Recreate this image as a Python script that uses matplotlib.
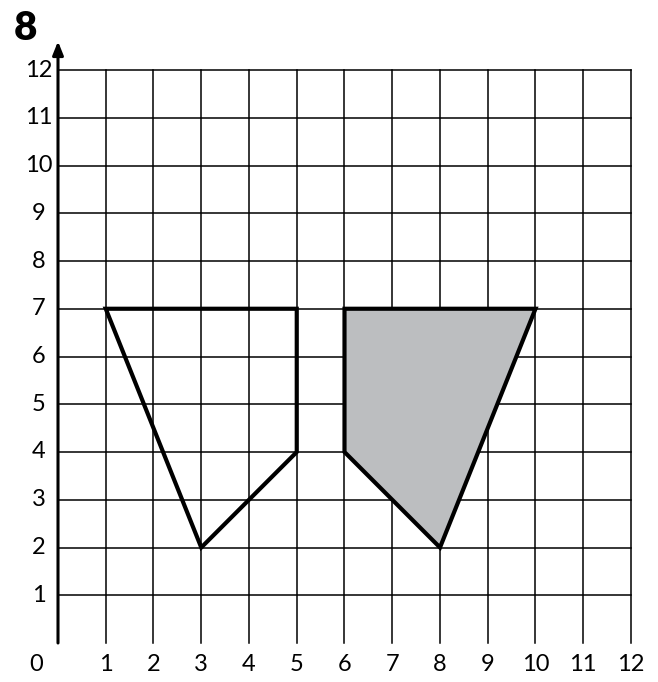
import matplotlib
matplotlib.use("Agg")
import matplotlib.pyplot as plt
from matplotlib.patches import Polygon

# grid size and tick labels
grid_max = 12
ticks = list(range(1, 13))

# shapes on the grid
shape_a_x = [1, 5, 5, 3]
shape_a_y = [7, 7, 4, 2]
shape_b_x = [6, 10, 8, 6]
shape_b_y = [7, 7, 2, 4]

fig = plt.figure(figsize=(6.58, 6.82), dpi=100)
ax = fig.add_axes([0, 0, 1, 1])
unit = 47.75
ax.set_xlim(-58 / unit, (658 - 58) / unit)
ax.set_ylim(-(682 - 643) / unit, 643 / unit)
ax.axis("off")

# grid lines
for v in range(1, grid_max + 1):
    ax.plot([v, v], [0, grid_max], color="black", lw=1.1, zorder=1)
    ax.plot([0, grid_max], [v, v], color="black", lw=1.1, zorder=1)

# axes with arrows
ax.annotate("", xy=(12.58, 0), xytext=(0, 0),
            arrowprops=dict(arrowstyle="-|>,head_length=0.5,head_width=0.2",
                            lw=2.2, color="black",
                            mutation_scale=16, shrinkA=0, shrinkB=0))
ax.annotate("", xy=(0, 12.6), xytext=(0, 0),
            arrowprops=dict(arrowstyle="-|>,head_length=0.5,head_width=0.2",
                            lw=2.2, color="black",
                            mutation_scale=16, shrinkA=0, shrinkB=0))

font = dict(family=["Lato", "DejaVu Sans"], fontsize=17, color="black")
for t in ticks:
    ax.text(t, -0.46, str(t), ha="center", va="center", **font)
    ax.text(-0.4, t, str(t), ha="center", va="center", **font)
ax.text(-0.45, -0.46, "0", ha="center", va="center", **font)

ax.add_patch(Polygon(list(zip(shape_a_x, shape_a_y)), closed=True,
                     fill=False, edgecolor="black", lw=3, zorder=3))
ax.add_patch(Polygon(list(zip(shape_b_x, shape_b_y)), closed=True,
                     facecolor="#bcbec0", edgecolor="black", lw=3, zorder=3))

fig.text(25 / 658, 1 - 28 / 682, "8", ha="center", va="center",
         fontsize=29, fontweight="heavy", family=["Lato", "DejaVu Sans"])

fig.savefig("out.png", dpi=100)
